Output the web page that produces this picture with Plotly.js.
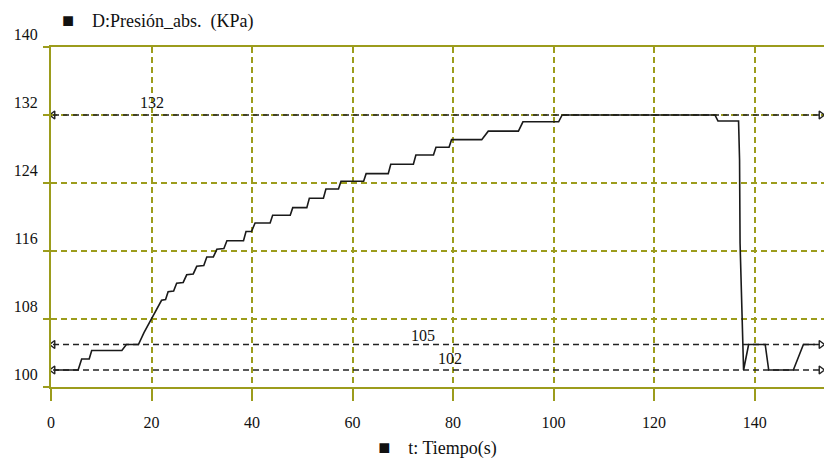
<!DOCTYPE html>
<html>
<head>
<meta charset="utf-8">
<script src="https://cdn.plot.ly/plotly-3.0.1.min.js"></script>
<style>html,body{margin:0;padding:0;background:#fff;}#chart{width:824px;height:466px;}</style>
</head>
<body>
<div id="chart"></div>
<script>
// Curve: time (s) and absolute pressure (KPa)
var tiempo = [0.8, 5.4, 6.1, 7.6, 8.1, 14.1, 15.0, 17.4, 18.5, 19.3, 20.0, 21.0, 22.0, 22.8, 23.3, 24.4, 25.0, 26.3, 27.0, 28.3, 29.0, 30.4, 31.0, 32.3, 33.0, 34.4, 35.0, 38.3, 38.8, 39.9, 40.6, 43.6, 44.1, 47.6, 48.1, 50.9, 51.4, 54.2, 54.7, 57.2, 57.7, 62.2, 62.7, 67.1, 67.6, 72.1, 72.6, 76.1, 76.6, 79.2, 79.7, 85.7, 87.0, 93.0, 93.9, 101.0, 101.7, 132.1, 132.7, 136.8, 137.0, 137.1, 137.6, 137.8, 138.8, 142.1, 142.8, 147.7, 149.7, 152.0];
var presion = [102, 102, 103.3, 103.3, 104.3, 104.3, 105, 105, 106.4, 107.3, 108.1, 109.2, 110.2, 110.3, 111.2, 111.3, 112.2, 112.3, 113.2, 113.3, 114.2, 114.3, 115.3, 115.3, 116.2, 116.3, 117.2, 117.2, 118.3, 118.3, 119.3, 119.3, 120.2, 120.2, 121.1, 121.1, 122.2, 122.2, 123.3, 123.3, 124.2, 124.2, 125.1, 125.1, 126.2, 126.2, 127.3, 127.3, 128.2, 128.2, 129.1, 129.1, 130.1, 130.1, 131.2, 131.2, 132, 132, 131.3, 131.3, 126.7, 116.9, 106.9, 102, 105, 105, 102, 102, 105, 105];

// Reference (cursor) lines
var refValues = [132, 105, 102];
var refLabels = ["132", "105", "102"];
var refLabelX = [20, 74, 79.4];
var refLabelShift = [13, 9, 12];
var refStartX = 0.4;
var refEndX = 153.2;

// Axes
var xTicks = [0, 20, 40, 60, 80, 100, 120, 140];
var yTicks = [100, 108, 116, 124, 132, 140];
var yTitle = "D:Presión_abs.\u00a0\u00a0(KPa)";
var xTitle = "t: Tiempo(s)";

var olive = "#9c9c1c";
var serif = "Liberation Serif";
var square = "<span style='font-size:20px'>\u25A0</span>\u00a0\u00a0\u00a0\u00a0";

var traces = [];
refValues.forEach(function (v, i) {
  traces.push({
    x: [refStartX, refEndX], y: [v, v],
    mode: "lines+markers", type: "scatter", hoverinfo: "skip",
    line: {color: "#222222", width: 1.6, dash: "6px,4px"},
    marker: {symbol: ["triangle-left-open", "triangle-right-open"], size: 7, color: "#222222", line: {width: 1.4, color: "#222222"}}
  });
});
traces.push({
  x: tiempo, y: presion, mode: "lines", type: "scatter",
  line: {color: "#1a1a1a", width: 1.6}
});

var annotations = refValues.map(function (v, i) {
  return {x: refLabelX[i], y: v, xref: "x", yref: "y", text: refLabels[i], showarrow: false,
          yshift: refLabelShift[i], font: {family: serif, size: 16, color: "#111"}};
});
annotations.push({xref: "paper", yref: "paper", x: 0.012, y: 1, yshift: 27, xanchor: "left", yanchor: "middle",
  text: square + yTitle, showarrow: false, font: {family: serif, size: 18, color: "#111"}});

var layout = {
  width: 824, height: 466,
  margin: {l: 51, r: 0, t: 47, b: 79},
  paper_bgcolor: "#ffffff", plot_bgcolor: "#ffffff",
  showlegend: false,
  font: {family: serif, size: 16, color: "#111"},
  xaxis: {
    range: [0, 153.8], tickvals: xTicks, ticktext: xTicks.map(String),
    showline: true, linecolor: olive, linewidth: 2, mirror: true,
    showgrid: true, gridcolor: olive, gridwidth: 2, griddash: "6px,4px",
    ticks: "outside", ticklen: 12, tickcolor: olive, tickwidth: 2,
    ticklabelstandoff: 8,
    zeroline: false,
    tickfont: {family: serif, size: 16, color: "#111"},
    title: {text: square + xTitle, font: {family: serif, size: 18, color: "#111"}, standoff: 11}
  },
  yaxis: {
    range: [100, 140], tickvals: yTicks, ticktext: yTicks.map(String),
    showline: true, linecolor: olive, linewidth: 2,
    showgrid: true, gridcolor: olive, gridwidth: 2, griddash: "6px,4px",
    ticks: "outside", ticklen: 6, tickcolor: olive, tickwidth: 2,
    ticklabelposition: "outside top", ticklabelstandoff: 8,
    zeroline: false,
    tickfont: {family: serif, size: 16, color: "#111"}
  },
  annotations: annotations
};

Plotly.newPlot("chart", traces, layout, {displayModeBar: false, staticPlot: true});
</script>
</body>
</html>
